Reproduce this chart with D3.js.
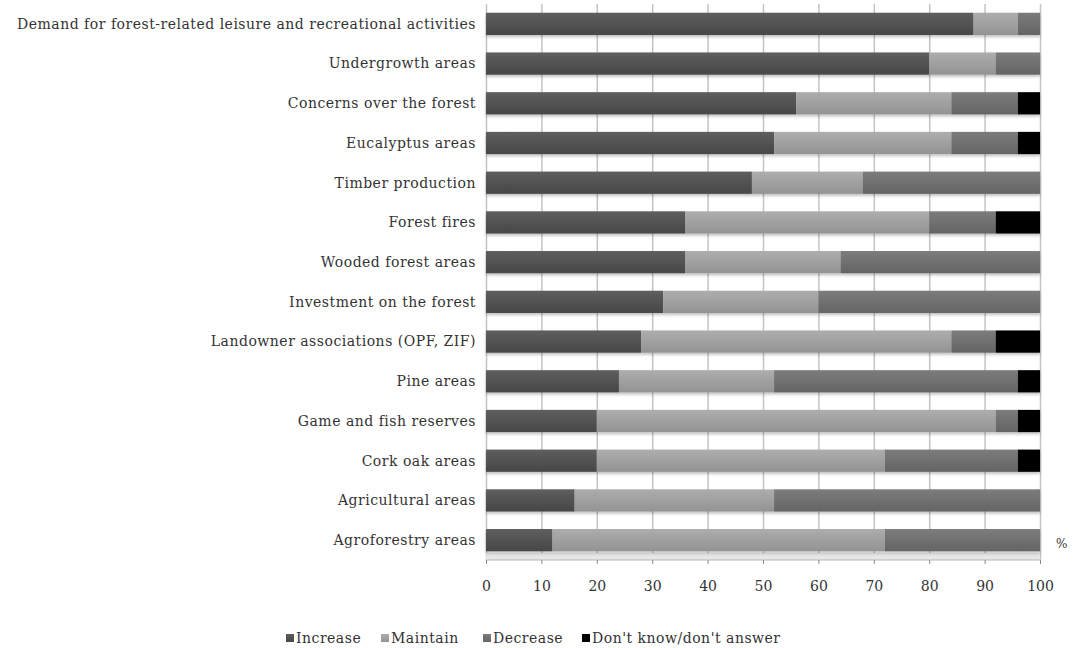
<!DOCTYPE html>
<html><head><meta charset="utf-8">
<script src="https://cdn.jsdelivr.net/npm/d3@7"></script>
<style>body{margin:0;background:#fff}svg{display:block}text{font-family:"DejaVu Serif","Liberation Serif",serif;fill:#333}</style>
</head><body>
<script>
const categories = ["Demand for forest-related leisure and recreational activities","Undergrowth areas","Concerns over the forest","Eucalyptus areas","Timber production","Forest fires","Wooded forest areas","Investment on the forest","Landowner associations (OPF, ZIF)","Pine areas","Game and fish reserves","Cork oak areas","Agricultural areas","Agroforestry areas"];
const seriesNames = ["Increase","Maintain","Decrease","Don't know/don't answer"];
const increase = [88,80,56,52,48,36,36,32,28,24,20,20,16,12];
const maintain = [8,12,28,32,20,44,28,28,56,28,72,52,36,60];
const decrease = [4,8,12,12,32,12,36,40,8,44,4,24,48,28];
const dontKnow = [0,0,4,4,0,8,0,0,8,4,4,4,0,0];
const xTicks = [0,10,20,30,40,50,60,70,80,90,100];

const W=1074,H=648;
const svg=d3.select("body").append("svg").attr("width",W).attr("height",H);
const x=d3.scaleLinear().domain([0,100]).range([486,1040]);
const y=d3.scaleBand().domain(categories).range([4,560]).paddingInner(0.44).paddingOuter(0.22);

const grads=[["#5e5e5e","#474747"],["#adadad","#939393"],["#7c7c7c","#646464"],["#000","#000"]];
const defs=svg.append("defs");
grads.forEach((g,i)=>{const lg=defs.append("linearGradient").attr("id","g"+i).attr("x1",0).attr("y1",0).attr("x2",0).attr("y2",1);
 lg.append("stop").attr("offset","0%").attr("stop-color",g[0]);lg.append("stop").attr("offset","100%").attr("stop-color",g[1]);});
const f=defs.append("filter").attr("id","sh").attr("x","-5%").attr("y","-20%").attr("width","110%").attr("height","160%");
f.append("feDropShadow").attr("dx",0).attr("dy",2).attr("stdDeviation",1.5).attr("flood-color","#000").attr("flood-opacity",0.25);

// gridlines
svg.append("g").attr("transform","translate(0,560)")
 .call(d3.axisBottom(x).tickValues(xTicks).tickSize(-556).tickFormat(""))
 .call(g=>{g.select(".domain").remove();g.selectAll("line").attr("stroke","#c4c4c4").attr("stroke-width",1.5);});
// bottom floor lines
svg.append("rect").attr("x",x(0)).attr("y",553).attr("width",x(100)-x(0)).attr("height",7).attr("fill","#e6e6e6");
svg.append("line").attr("x1",x(0)).attr("x2",x(100)).attr("y1",560).attr("y2",560).attr("stroke","#b8b8b8");

const data=categories.map((c,i)=>({cat:c,Increase:increase[i],Maintain:maintain[i],Decrease:decrease[i],"Don't know/don't answer":dontKnow[i]}));
const stack=d3.stack().keys(seriesNames)(data);
svg.append("g").attr("filter","url(#sh)").selectAll("g").data(stack).join("g").attr("fill",(d,i)=>`url(#g${i})`)
 .selectAll("rect").data(d=>d).join("rect")
 .attr("x",d=>x(d[0])).attr("width",d=>x(d[1])-x(d[0])).attr("y",d=>y(d.data.cat)).attr("height",y.bandwidth());

// tick marks + labels
const ax=svg.append("g").attr("transform","translate(0,560)").call(d3.axisBottom(x).tickValues(xTicks).tickSize(4).tickPadding(17));
ax.select(".domain").remove();
ax.selectAll("line").attr("stroke","#888");
ax.selectAll("text").attr("font-size",14).attr("fill","#555").style("font-family","'DejaVu Serif',serif");

// category labels
svg.append("g").selectAll("text").data(categories).join("text")
 .attr("x",476).attr("y",d=>y(d)+y.bandwidth()/2).attr("dy","0.35em").attr("text-anchor","end")
 .attr("font-size",14).attr("letter-spacing",0.5).text(d=>d);

svg.append("text").attr("x",1056).attr("y",548).attr("font-size",12).text("%");

// legend
const lx=[286,381,483,582];
const lg=svg.append("g");
seriesNames.forEach((s,i)=>{
 lg.append("rect").attr("x",lx[i]).attr("y",634).attr("width",8).attr("height",8).attr("fill",`url(#g${i})`);
 lg.append("text").attr("x",lx[i]+10).attr("y",643).attr("font-size",14).attr("letter-spacing",0.5).text(s);
});
</script>
</body></html>
